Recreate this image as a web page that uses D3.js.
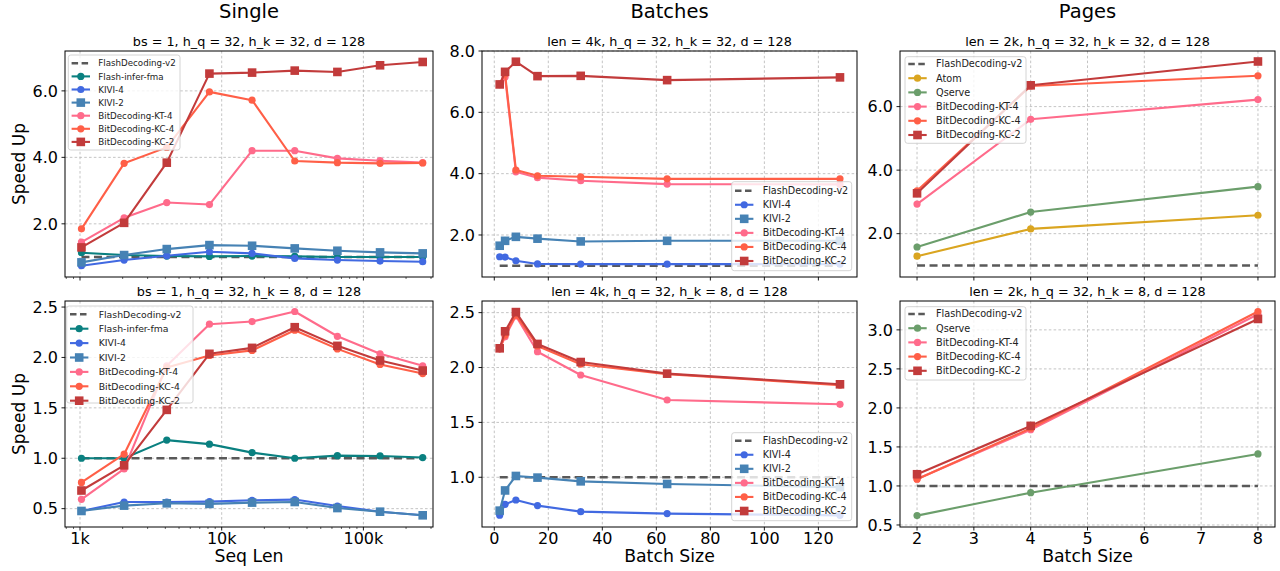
<!DOCTYPE html>
<html><head><meta charset="utf-8">
<script src="https://cdn.jsdelivr.net/npm/d3@7"></script>
<style>body{margin:0;background:#fff;}svg{display:block;font-family:"DejaVu Sans",sans-serif;}</style>
</head><body>
<svg id="c" width="1280" height="571"></svg>
<script>
// ---------- DATA ----------
const seqLens = [1024, 2048, 4096, 8192, 16384, 32768, 65536, 131072, 262144];
const batchSizes = [2, 4, 8, 16, 32, 64, 128];
const pageBatch = [2, 4, 8];
const seqTicks = [1000, 10000, 100000];
const seqTickLabels = ["1k", "10k", "100k"];

const colTitles = ["Single", "Batches", "Pages"];
const subTitles = [
  "bs = 1, h_q = 32, h_k = 32, d = 128", "len = 4k, h_q = 32, h_k = 32, d = 128", "len = 2k, h_q = 32, h_k = 32, d = 128",
  "bs = 1, h_q = 32, h_k = 8, d = 128", "len = 4k, h_q = 32, h_k = 8, d = 128", "len = 2k, h_q = 32, h_k = 8, d = 128"
];

// Single, h_k = 32
const sFD32   = [1, 1, 1, 1, 1, 1, 1, 1, 1];
const sFMA32  = [1.13, 1.06, 1.03, 1.02, 1.03, 1.02, 1.00, 1.00, 1.00];
const sKIVI4_32 = [0.74, 0.91, 1.04, 1.16, 1.11, 0.96, 0.91, 0.88, 0.86];
const sKIVI2_32 = [0.84, 1.06, 1.24, 1.36, 1.34, 1.26, 1.19, 1.14, 1.11];
const sKT4_32 = [1.45, 2.18, 2.64, 2.58, 4.20, 4.20, 3.97, 3.90, 3.84];
const sKC4_32 = [1.85, 3.82, 4.30, 5.97, 5.72, 3.89, 3.84, 3.82, 3.83];
const sKC2_32 = [1.29, 2.03, 3.84, 6.52, 6.55, 6.61, 6.57, 6.77, 6.87];
// Single, h_k = 8
const sFD8    = [1, 1, 1, 1, 1, 1, 1, 1, 1];
const sFMA8   = [1.00, 1.00, 1.18, 1.14, 1.056, 1.00, 1.026, 1.023, 1.007];
const sKIVI4_8 = [0.477, 0.566, 0.566, 0.57, 0.583, 0.59, 0.526, 0.47, 0.434];
const sKIVI2_8 = [0.477, 0.53, 0.553, 0.547, 0.56, 0.566, 0.506, 0.47, 0.434];
const sKT4_8  = [0.593, 0.894, 1.917, 2.33, 2.356, 2.456, 2.21, 2.036, 1.917];
const sKC4_8  = [0.76, 1.04, 1.90, 2.02, 2.07, 2.27, 2.085, 1.93, 1.84];
const sKC2_8  = [0.68, 0.93, 1.48, 2.036, 2.095, 2.30, 2.115, 1.97, 1.87];
// Batches, h_k = 32
const bFD32   = [1, 1, 1, 1, 1, 1, 1];
const bKIVI4_32 = [1.29, 1.28, 1.16, 1.055, 1.05, 1.05, 1.05];
const bKIVI2_32 = [1.65, 1.81, 1.94, 1.88, 1.79, 1.81, 1.81];
const bKT4_32 = [6.90, 7.15, 4.06, 3.87, 3.77, 3.66, 3.65];
const bKC4_32 = [6.92, 7.25, 4.12, 3.93, 3.90, 3.83, 3.83];
const bKC2_32 = [6.91, 7.32, 7.65, 7.18, 7.19, 7.05, 7.14];
// Batches, h_k = 8
const bFD8    = [1, 1, 1, 1, 1, 1, 1];
const bKIVI4_8 = [0.654, 0.754, 0.793, 0.742, 0.687, 0.669, 0.653];
const bKIVI2_8 = [0.696, 0.88, 1.012, 0.997, 0.963, 0.939, 0.91];
const bKT4_8  = [2.17, 2.28, 2.47, 2.144, 1.932, 1.704, 1.665];
const bKC4_8  = [2.17, 2.296, 2.478, 2.196, 2.03, 1.94, 1.84];
const bKC2_8  = [2.175, 2.33, 2.505, 2.215, 2.05, 1.944, 1.847];
// Pages, h_k = 32
const pFD32   = [1, 1, 1];
const pAtom32 = [1.29, 2.15, 2.58];
const pQserve32 = [1.58, 2.68, 3.48];
const pKT4_32 = [2.93, 5.60, 6.22];
const pKC4_32 = [3.35, 6.65, 6.97];
const pKC2_32 = [3.27, 6.67, 7.42];
// Pages, h_k = 8
const pFD8    = [1, 1, 1];
const pQserve8 = [0.62, 0.914, 1.41];
const pKT4_8  = [1.09, 1.72, 3.20];
const pKC4_8  = [1.086, 1.74, 3.235];
const pKC2_8  = [1.15, 1.77, 3.14];

// ---------- STYLES ----------
const sty = {
  "FlashDecoding-v2": {c: "#595959", m: null, dash: true},
  "Flash-infer-fma": {c: "#0a8080", m: "o"},
  "KIVI-4": {c: "#4169e1", m: "o"},
  "KIVI-2": {c: "#4682b4", m: "s"},
  "Atom": {c: "#daa520", m: "o"},
  "Qserve": {c: "#6b9e6b", m: "o"},
  "BitDecoding-KT-4": {c: "#ff6b8b", m: "o"},
  "BitDecoding-KC-4": {c: "#ff5f47", m: "o"},
  "BitDecoding-KC-2": {c: "#c23b3b", m: "s"}
};

const panels = [
  {box: [65, 51, 433, 277], log: true, xd: [783.6, 309900], yd: [0.4, 7.2], yt: [2, 4, 6], xs: seqLens,
   series: [["FlashDecoding-v2", sFD32], ["Flash-infer-fma", sFMA32], ["KIVI-4", sKIVI4_32], ["KIVI-2", sKIVI2_32], ["BitDecoding-KT-4", sKT4_32], ["BitDecoding-KC-4", sKC4_32], ["BitDecoding-KC-2", sKC2_32]],
   lg: {x: 68.3, y: 55, w: 111.7, h: 95, fs: 8.7, y0: 63.3, dy: 13.1, tx: 30}},
  {box: [482, 51, 857, 277], log: false, xd: [-4.55, 134.3], yd: [0.63, 8.0], yt: [2, 4, 6, 8], xt: [0, 20, 40, 60, 80, 100, 120], xs: batchSizes,
   series: [["FlashDecoding-v2", bFD32], ["KIVI-4", bKIVI4_32], ["KIVI-2", bKIVI2_32], ["BitDecoding-KT-4", bKT4_32], ["BitDecoding-KC-4", bKC4_32], ["BitDecoding-KC-2", bKC2_32]],
   lg: {x: 731.7, y: 181.7, w: 120, h: 89, fs: 9.6, y0: 190.7, dy: 14.06, tx: 31}},
  {box: [900, 51, 1275, 277], log: false, xd: [1.7, 8.3], yd: [0.636, 7.75], yt: [2, 4, 6], xt: [2, 3, 4, 5, 6, 7, 8], xs: pageBatch,
   series: [["FlashDecoding-v2", pFD32], ["Atom", pAtom32], ["Qserve", pQserve32], ["BitDecoding-KT-4", pKT4_32], ["BitDecoding-KC-4", pKC4_32], ["BitDecoding-KC-2", pKC2_32]],
   lg: {x: 905, y: 56.7, w: 121, h: 86.6, fs: 9.7, y0: 64, dy: 14.2, tx: 31}},
  {box: [65, 301, 433, 527], log: true, xd: [783.6, 309900], yd: [0.318, 2.56], yt: [0.5, 1, 1.5, 2, 2.5], xs: seqLens,
   series: [["FlashDecoding-v2", sFD8], ["Flash-infer-fma", sFMA8], ["KIVI-4", sKIVI4_8], ["KIVI-2", sKIVI2_8], ["BitDecoding-KT-4", sKT4_8], ["BitDecoding-KC-4", sKC4_8], ["BitDecoding-KC-2", sKC2_8]],
   lg: {x: 66.7, y: 306, w: 126.3, h: 97, fs: 9.3, y0: 314.3, dy: 14.4, tx: 32}},
  {box: [482, 301, 857, 527], log: false, xd: [-4.55, 134.3], yd: [0.547, 2.606], yt: [1, 1.5, 2, 2.5], xt: [0, 20, 40, 60, 80, 100, 120], xs: batchSizes,
   series: [["FlashDecoding-v2", bFD8], ["KIVI-4", bKIVI4_8], ["KIVI-2", bKIVI2_8], ["BitDecoding-KT-4", bKT4_8], ["BitDecoding-KC-4", bKC4_8], ["BitDecoding-KC-2", bKC2_8]],
   lg: {x: 731.7, y: 432.7, w: 120, h: 88, fs: 9.6, y0: 440.7, dy: 14.06, tx: 31}},
  {box: [900, 301, 1275, 527], log: false, xd: [1.7, 8.3], yd: [0.474, 3.37], yt: [0.5, 1, 1.5, 2, 2.5, 3], xt: [2, 3, 4, 5, 6, 7, 8], xs: pageBatch,
   series: [["FlashDecoding-v2", pFD8], ["Qserve", pQserve8], ["BitDecoding-KT-4", pKT4_8], ["BitDecoding-KC-4", pKC4_8], ["BitDecoding-KC-2", pKC2_8]],
   lg: {x: 905, y: 306.7, w: 121, h: 73.3, fs: 9.7, y0: 314, dy: 14.2, tx: 31}}
];

const svg = d3.select("#c");
const fmt = d3.format(".1f");

function marker(g, type, x, y, color, s) {
  if (type === "o") g.append("circle").attr("cx", x).attr("cy", y).attr("r", 3.6 * s).attr("fill", color);
  else if (type === "s") { const h = 4.3 * s; g.append("rect").attr("x", x - h).attr("y", y - h).attr("width", 2 * h).attr("height", 2 * h).attr("fill", color); }
}

panels.forEach((p, i) => {
  const [x0, y0, x1, y1] = p.box;
  const row = Math.floor(i / 3);
  const x = p.log ? d3.scaleLog().domain(p.xd).range([x0, x1]) : d3.scaleLinear().domain(p.xd).range([x0, x1]);
  const y = d3.scaleLinear().domain(p.yd).range([y1, y0]);
  const g = svg.append("g");
  const clipId = "clip" + i;
  svg.append("clipPath").attr("id", clipId).append("rect").attr("x", x0).attr("y", y0).attr("width", x1 - x0).attr("height", y1 - y0);

  const xt = p.log ? seqTicks : p.xt;
  // grid
  const grid = g.append("g").attr("stroke", "#b5b5b5").attr("stroke-width", 0.8).attr("stroke-dasharray", "2.6,2.2");
  xt.forEach(v => grid.append("line").attr("x1", x(v)).attr("x2", x(v)).attr("y1", y0).attr("y2", y1));
  p.yt.forEach(v => grid.append("line").attr("x1", x0).attr("x2", x1).attr("y1", y(v)).attr("y2", y(v)));

  // series
  const sg = g.append("g").attr("clip-path", `url(#${clipId})`);
  p.series.forEach(([name, vals]) => {
    const st = sty[name];
    const pts = p.xs.map((xv, k) => [x(xv), y(vals[k])]);
    sg.append("path").attr("d", d3.line()(pts)).attr("fill", "none").attr("stroke", st.c)
      .attr("stroke-width", st.dash ? 2.5 : 2.1).attr("stroke-dasharray", st.dash ? "8,4.5" : null)
      .attr("stroke-linejoin", "round");
    if (st.m) pts.forEach(([px, py]) => marker(sg, st.m, px, py, st.c, 1));
  });

  // spines
  g.append("rect").attr("x", x0).attr("y", y0).attr("width", x1 - x0).attr("height", y1 - y0)
    .attr("fill", "none").attr("stroke", "#000").attr("stroke-width", 1);

  // y ticks
  p.yt.forEach(v => {
    g.append("line").attr("x1", x0 - 3.5).attr("x2", x0).attr("y1", y(v)).attr("y2", y(v)).attr("stroke", "#000").attr("stroke-width", 0.9);
    g.append("text").attr("x", x0 - 7).attr("y", y(v)).attr("dy", "0.36em").attr("text-anchor", "end")
      .attr("font-size", 16).attr("fill", "#000").text(fmt(v));
  });
  // x ticks
  xt.forEach((v, k) => {
    g.append("line").attr("x1", x(v)).attr("x2", x(v)).attr("y1", y1).attr("y2", y1 + 3.5).attr("stroke", "#000").attr("stroke-width", 0.9);
    if (row === 1) g.append("text").attr("x", x(v)).attr("y", y1 + 16.5).attr("text-anchor", "middle")
      .attr("font-size", 16).attr("fill", "#000").text(p.log ? seqTickLabels[k] : v);
  });
  if (p.log) {
    const minors = [];
    [100, 1000, 10000, 100000].forEach(dec => { for (let m = 2; m <= 9; m++) minors.push(dec * m); });
    minors.filter(v => v > p.xd[0] && v < p.xd[1]).forEach(v => {
      g.append("line").attr("x1", x(v)).attr("x2", x(v)).attr("y1", y1).attr("y2", y1 + 2).attr("stroke", "#000").attr("stroke-width", 0.6);
    });
  }

  // subtitle
  g.append("text").attr("x", (x0 + x1) / 2).attr("y", y0 - 5.5).attr("text-anchor", "middle")
    .attr("font-size", 12.8).attr("fill", "#000").text(subTitles[i]);
  if (row === 0) g.append("text").attr("x", (x0 + x1) / 2).attr("y", 18).attr("text-anchor", "middle")
    .attr("font-size", 19.5).attr("fill", "#000").text(colTitles[i]);
  if (i % 3 === 0) g.append("text").attr("transform", `translate(25,${(y0 + y1) / 2}) rotate(-90)`)
    .attr("text-anchor", "middle").attr("font-size", 17).attr("fill", "#000").text("Speed Up");
  if (row === 1) g.append("text").attr("x", (x0 + x1) / 2).attr("y", 562).attr("text-anchor", "middle")
    .attr("font-size", 17.3).attr("fill", "#000").text(p.log ? "Seq Len" : "Batch Size");

  // legend
  const L = p.lg;
  const lg = g.append("g");
  lg.append("rect").attr("x", L.x).attr("y", L.y).attr("width", L.w).attr("height", L.h).attr("rx", 2.5)
    .attr("fill", "#fff").attr("fill-opacity", 0.8).attr("stroke", "#cfcfcf").attr("stroke-width", 0.9);
  p.series.forEach(([name], k) => {
    const st = sty[name];
    const ly = L.y0 + k * L.dy;
    lg.append("line").attr("x1", L.x + 3.3).attr("x2", L.x + 21.7).attr("y1", ly).attr("y2", ly)
      .attr("stroke", st.c).attr("stroke-width", st.dash ? 2.5 : 2.1).attr("stroke-dasharray", st.dash ? "6.5,3.5" : null);
    if (st.m) marker(lg, st.m, L.x + 12.5, ly, st.c, 1);
    lg.append("text").attr("x", L.x + L.tx).attr("y", ly).attr("dy", "0.36em").attr("font-size", L.fs)
      .attr("fill", "#222").text(name);
  });
});
</script>
</body></html>
